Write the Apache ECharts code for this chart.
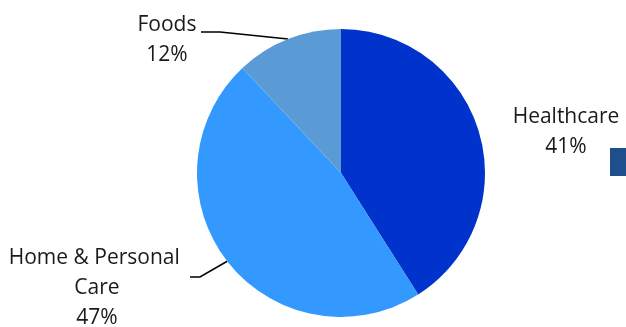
<!DOCTYPE html>
<html><head><meta charset="utf-8">
<script src="https://cdn.jsdelivr.net/npm/echarts@6/dist/echarts.min.js"></script>
<style>html,body{margin:0;padding:0;background:#fff}#c{width:626px;height:327px}</style>
</head><body><div id="c"></div>
<script>
var categories = ['Healthcare', 'Home & Personal Care', 'Foods'];
var values = [41, 47, 12];
var colors = ['#0033CC', '#3399FF', '#5B9BD5'];

var chart = echarts.init(document.getElementById('c'), null, {renderer: 'canvas'});
var labelPos = [
  {x: 566, y: 132, line: false},
  {x: 97, y: 288, line: true, elbow: [[200, 277], [190, 277]]},
  {x: 167, y: 40, line: true, elbow: [[220, 32], [201, 32]]}
];
chart.setOption({
  animation: false,
  series: [{
    type: 'pie',
    center: [341, 173],
    radius: [0, 144],
    startAngle: 90,
    clockwise: true,
    data: categories.map(function (c, i) {
      return {name: c, value: values[i], itemStyle: {color: colors[i]},
        labelLine: {show: labelPos[i].line}};
    }),
    itemStyle: {borderColor: '#fff', borderWidth: 0},
    label: {
      show: true,
      formatter: '{b}\n{d}%',
      fontFamily: 'Open Sans',
      fontSize: 21,
      lineHeight: 30,
      color: '#1a1a1a',
      width: 185,
      overflow: 'break',
      align: 'center'
    },
    labelLine: {lineStyle: {color: '#000', width: 1.5}, smooth: false},
    labelLayout: function (p) {
      var lp = labelPos[p.dataIndex];
      var out = {x: lp.x, y: lp.y, align: 'center', verticalAlign: 'middle'};
      if (lp.elbow && p.labelLinePoints) {
        out.labelLinePoints = [p.labelLinePoints[0], lp.elbow[0], lp.elbow[1]];
      }
      return out;
    }
  }],
  graphic: [{type: 'rect', shape: {x: 610, y: 148, width: 16, height: 28}, style: {fill: '#1F4E8C'}}]
});
</script></body></html>
